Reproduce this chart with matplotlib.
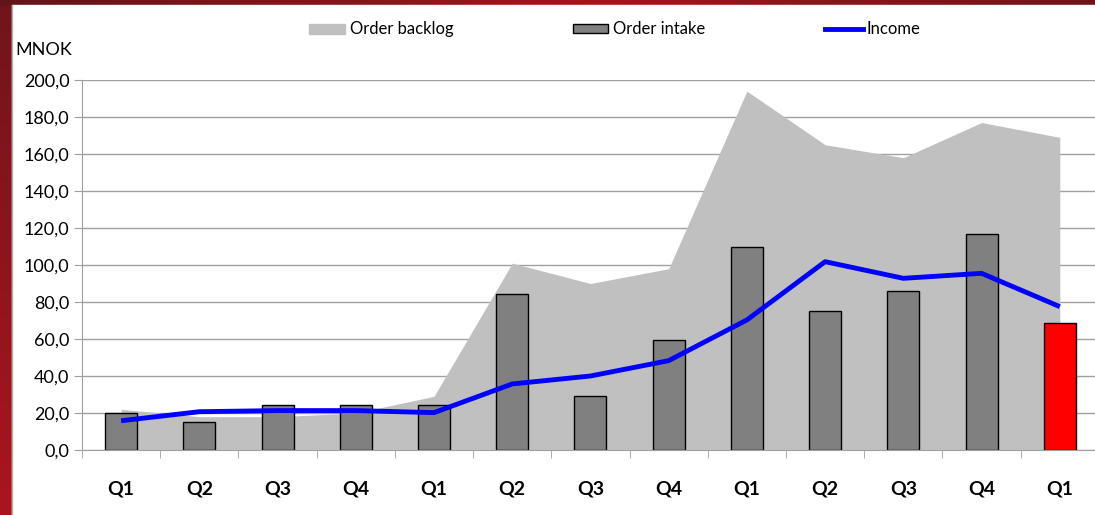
import numpy as np
import matplotlib.pyplot as plt
from matplotlib.patches import Rectangle
from matplotlib.lines import Line2D

quarters = ["Q1", "Q2", "Q3", "Q4", "Q1", "Q2", "Q3", "Q4", "Q1", "Q2", "Q3", "Q4", "Q1"]
order_backlog = [22, 18, 18, 20, 29, 101, 90, 98, 194, 165, 158, 177, 169]
order_intake = [19.8, 15.1, 24.5, 24.5, 24.5, 84.3, 29.2, 59.5, 110, 75, 86, 117, 68.8]
income = [15.8, 20.7, 21.3, 21.3, 20.2, 35.7, 40, 48.3, 70.3, 101.8, 92.8, 95.5, 77.5]

plt.rcParams['font.family'] = ['Lato', 'DejaVu Sans']

W, H = 1095, 515
fig = plt.figure(figsize=(W / 100, H / 100), dpi=100)

# red frame behind the white panel
bg = fig.add_axes([0, 0, 1, 1], zorder=-10)
gy = np.linspace(0, 1, 200)[:, None]
gx = np.linspace(0, 1, 400)[None, :]
mid = 1 - np.abs(gx - 0.55) * 1.6
shade = np.clip(0.35 + 0.65 * gy * 0.9, 0, 1)
img = np.zeros((200, 400, 3))
img[..., 0] = 0.30 + 0.40 * shade
img[..., 1] = 0.08 + 0.00 * gx
img[..., 2] = 0.10 + 0.02 * shade
bg.imshow(img, aspect="auto", extent=[0, 1, 0, 1], origin="upper")
top = np.zeros((2, 400, 3))
top[..., 0] = 0.35 + 0.30 * np.clip(mid, 0, 1)
top[..., 1] = 0.08
top[..., 2] = 0.10
bg.imshow(top, aspect="auto", extent=[0, 1, 1 - 5 / H, 1])
bg.add_patch(Rectangle((12 / W, 0), 1, 1 - 5 / H, color="white"))
bg.plot([12 / W, 12 / W], [0, 1 - 5 / H], color="#b0b0b0", lw=1)
bg.set_xlim(0, 1)
bg.set_ylim(0, 1)
bg.axis("off")

x = np.arange(len(quarters))
ax = fig.add_axes([82 / W, 1 - 450 / H, 1 - 82 / W, (450 - 80) / H])
ax.set_facecolor("none")

ax.fill_between(x, 0, order_backlog, color="#c0c0c0", lw=0, zorder=1)
colors = ["#808080"] * (len(quarters) - 1) + ["#ff0000"]
ax.bar(x, order_intake, width=0.41, color=colors, edgecolor="black", lw=1, zorder=2)
ax.plot(x, income, color="#0000ff", lw=3.5, zorder=3, solid_capstyle="butt")

ax.set_xlim(-0.5, 12.45)
ax.set_ylim(0, 200)
ax.set_yticks(np.arange(0, 201, 20))
ax.set_yticklabels([f"{v:.1f}".replace(".", ",") for v in np.arange(0, 201, 20)], fontsize=13)
ax.yaxis.grid(True, color="#a0a0a0", lw=1)
ax.set_axisbelow(True)
ax.set_xticks(x)
ax.set_xticklabels(quarters, fontsize=14, fontweight="bold")
ax.set_xticks(np.arange(-0.5, 12.5, 1), minor=True)
ax.tick_params(axis="x", which="major", length=0, pad=22)
ax.tick_params(axis="x", which="minor", length=6, color="#a0a0a0")
ax.tick_params(axis="y", length=6, color="#a0a0a0", pad=3)
for s in ["top", "right"]:
    ax.spines[s].set_visible(False)
for s in ["left", "bottom"]:
    ax.spines[s].set_color("#a0a0a0")

fig.text(15 / W, 1 - 50 / H, "MNOK", fontsize=13, va="center", ha="left")

# legend along the top
ly = 1 - 29 / H
fig.patches.append(Rectangle((309 / W, ly - 5 / H), 36 / W, 10 / H, color="#c0c0c0",
                             transform=fig.transFigure))
fig.text(350 / W, ly, "Order backlog", fontsize=12, va="center")
fig.patches.append(Rectangle((573 / W, ly - 4 / H), 35 / W, 9 / H, facecolor="#808080",
                             edgecolor="black", lw=1, transform=fig.transFigure))
fig.text(613 / W, ly, "Order intake", fontsize=12, va="center")
fig.lines.append(Line2D([825 / W, 863 / W], [ly, ly], color="#0000ff", lw=3.5,
                        transform=fig.transFigure))
fig.text(866 / W, ly, "Income", fontsize=12, va="center")

fig.savefig("out.png", dpi=100)
